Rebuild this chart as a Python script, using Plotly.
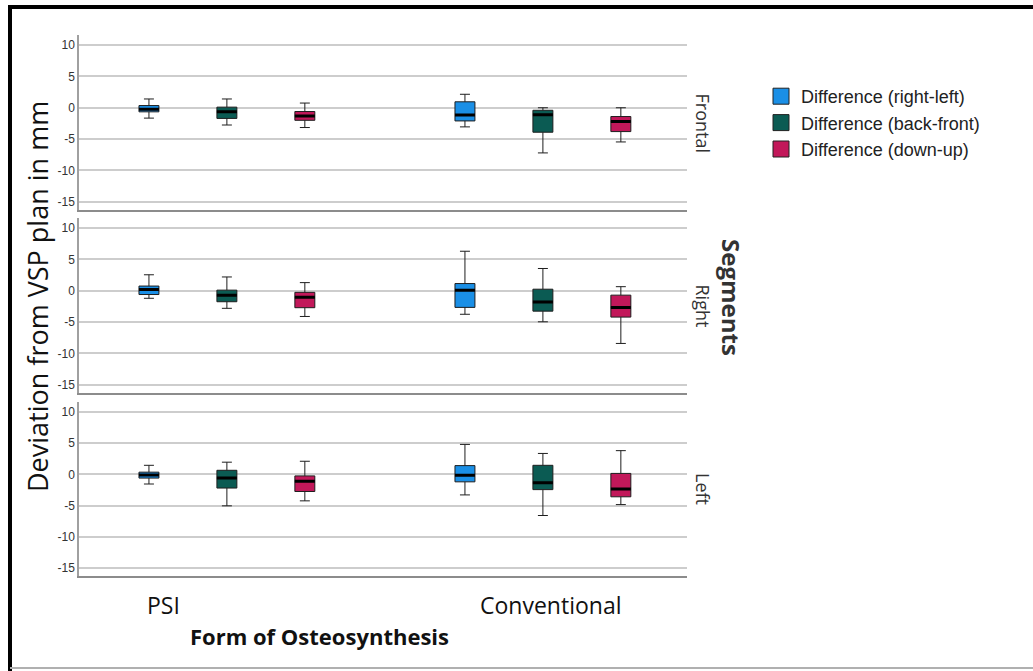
import plotly.graph_objects as go

# ---------------- data ----------------
categories = ["PSI", "Conventional"]
series = ["Difference (right-left)", "Difference (back-front)", "Difference (down-up)"]
segments = ["Frontal", "Right", "Left"]
colors = ["#1a8fe6", "#0b5b53", "#c2185a"]

# rows = series (right-left, back-front, down-up); cols = categories (PSI, Conventional)
frontal_lower = [[-1.65, -3.05], [-2.75, -7.2], [-3.15, -5.45]]
frontal_q1 = [[-0.65, -2.1], [-1.7, -3.9], [-2.0, -3.8]]
frontal_median = [[-0.25, -1.15], [-0.65, -1.1], [-1.3, -2.2]]
frontal_q3 = [[0.35, 0.95], [0.1, -0.4], [-0.6, -1.4]]
frontal_upper = [[1.4, 2.15], [1.4, 0.0], [0.75, 0.0]]

right_lower = [[-1.2, -3.75], [-2.8, -4.95], [-4.1, -8.4]]
right_q1 = [[-0.6, -2.65], [-1.75, -3.25], [-2.7, -4.2]]
right_median = [[0.2, 0.1], [-0.7, -1.8], [-1.05, -2.65]]
right_q3 = [[0.75, 1.15], [0.1, 0.25], [-0.25, -0.7]]
right_upper = [[2.55, 6.3], [2.2, 3.55], [1.3, 0.65]]

left_lower = [[-1.55, -3.3], [-5.05, -6.6], [-4.25, -4.85]]
left_q1 = [[-0.6, -1.2], [-2.2, -2.45], [-2.75, -3.6]]
left_median = [[-0.1, -0.15], [-0.6, -1.35], [-1.1, -2.35]]
left_q3 = [[0.35, 1.4], [0.65, 1.45], [-0.25, 0.15]]
left_upper = [[1.45, 4.8], [1.95, 3.35], [2.1, 3.8]]

ytick_vals = [-15, -10, -5, 0, 5, 10]
ytick_text = ["-15", "-10", "-5", "0", "5", "10"]

stats = {
    "Frontal": (frontal_lower, frontal_q1, frontal_median, frontal_q3, frontal_upper),
    "Right": (right_lower, right_q1, right_median, right_q3, right_upper),
    "Left": (left_lower, left_q1, left_median, left_q3, left_upper),
}

# ---------------- layout geometry (pixels) ----------------
W, H = 1033, 671
L, R, T, B = 79, 346, 35, 95
PW, PH = W - L - R, H - T - B
panel_px = [(35, 210), (218, 393), (402, 576)]  # top, bottom of each panel


def py(p):  # pixel y -> paper
    return (H - B - p) / PH


def px(p):  # pixel x -> paper
    return (p - L) / PW


fig = go.Figure()

for i, seg in enumerate(segments):
    lo, q1, me, q3, up = stats[seg]
    xa = "x" if i == 0 else f"x{i+1}"
    ya = "y" if i == 0 else f"y{i+1}"
    for j, name in enumerate(series):
        fig.add_trace(go.Box(
            x=categories, lowerfence=lo[j], q1=q1[j], median=me[j], q3=q3[j], upperfence=up[j],
            fillcolor=colors[j], line=dict(color="#1e1e1e", width=1),
            whiskerwidth=0.5, offsetgroup=str(j), name=name, showlegend=False,
            xaxis=xa, yaxis=ya, hoverinfo="skip",
        ))
        # thick median bar
        fig.add_trace(go.Box(
            x=categories, lowerfence=me[j], q1=me[j], median=me[j], q3=me[j], upperfence=me[j],
            fillcolor="rgba(0,0,0,0)", line=dict(color="#000000", width=3),
            whiskerwidth=0, offsetgroup=str(j), name=name, showlegend=False,
            xaxis=xa, yaxis=ya, hoverinfo="skip",
        ))

# legend entries
for j, name in enumerate(series):
    fig.add_trace(go.Scatter(
        x=[None], y=[None], mode="markers", name=name,
        marker=dict(symbol="square", size=16, color=colors[j], line=dict(color="#222", width=1)),
    ))

layout = dict(
    width=W, height=H,
    margin=dict(l=L, r=R, t=T, b=B),
    paper_bgcolor="white", plot_bgcolor="white",
    boxmode="group", boxgap=0.26, boxgroupgap=0.744,
    font=dict(family="Liberation Sans, Arial", color="#222"),
    legend=dict(
        x=px(761), y=py(78), xanchor="left", yanchor="top",
        font=dict(size=18, family="Liberation Sans, Arial", color="#222"),
        bgcolor="rgba(0,0,0,0)", tracegroupgap=0, itemwidth=30,
    ),
)

for i, seg in enumerate(segments):
    top, bot = panel_px[i]
    xk = "xaxis" if i == 0 else f"xaxis{i+1}"
    yk = "yaxis" if i == 0 else f"yaxis{i+1}"
    ya = "y" if i == 0 else f"y{i+1}"
    layout[xk] = dict(
        domain=[0, 1], anchor=ya, type="category", categoryorder="array",
        categoryarray=categories, range=[-0.468, 1.456],
        showticklabels=False, showgrid=False, zeroline=False,
        showline=True, linecolor="#8c8c8c", linewidth=2, ticks="",
        matches=None if i == 0 else "x",
    )
    layout[yk] = dict(
        domain=[py(bot), py(top)], anchor="x" if i == 0 else f"x{i+1}",
        range=[-16.3, 11.6], tickvals=ytick_vals, ticktext=ytick_text, ticks="",
        showgrid=True, gridcolor="#cdcdcd", gridwidth=1.6, zeroline=False,
        showline=True, linecolor="#a0a0a0", linewidth=1.5,
        tickfont=dict(size=12, family="Liberation Sans, Arial", color="#333"),
    )

fig.update_layout(**layout)

annotations = []
facet_y = [(t + b) / 2 for t, b in panel_px]
for i, seg in enumerate(segments):
    annotations.append(dict(
        text=seg, x=px(703), y=py(facet_y[i]), xref="paper", yref="paper",
        showarrow=False, textangle=90, xanchor="center", yanchor="middle",
        font=dict(size=18, family="Open Sans, Liberation Sans", color="#333"),
    ))
annotations.append(dict(
    text="<b>Segments</b>", x=px(732), y=py(297), xref="paper", yref="paper",
    showarrow=False, textangle=90, xanchor="center", yanchor="middle",
    font=dict(size=24, family="Open Sans", color="#333"),
))
annotations.append(dict(
    text="Deviation from VSP plan in mm", x=px(37), y=py(297), xref="paper", yref="paper",
    showarrow=False, textangle=-90, xanchor="center", yanchor="middle",
    font=dict(size=27, family="Open Sans", color="#111"),
))
cat_x = [163, 550]
for c, xp in zip(categories, cat_x):
    annotations.append(dict(
        text=c, x=px(xp), y=py(605), xref="paper", yref="paper",
        showarrow=False, xanchor="center", yanchor="middle",
        font=dict(size=23, family="Open Sans", color="#111"),
    ))
annotations.append(dict(
    text="<b>Form of Osteosynthesis</b>", x=px(319), y=py(636), xref="paper", yref="paper",
    showarrow=False, xanchor="center", yanchor="middle",
    font=dict(size=22, family="Open Sans", color="#111"),
))
fig.update_layout(annotations=annotations)

# outer frame
shapes = [
    dict(type="line", xref="paper", yref="paper", x0=px(10), x1=px(10), y0=py(5), y1=py(671),
         line=dict(color="black", width=4)),
    dict(type="line", xref="paper", yref="paper", x0=px(8), x1=px(1040), y0=py(7), y1=py(7),
         line=dict(color="black", width=4)),
    dict(type="line", xref="paper", yref="paper", x0=px(10), x1=px(1040), y0=py(668), y1=py(668),
         line=dict(color="#b0b0b0", width=2)),
]
fig.update_layout(shapes=shapes)

fig.write_html("out.html")
